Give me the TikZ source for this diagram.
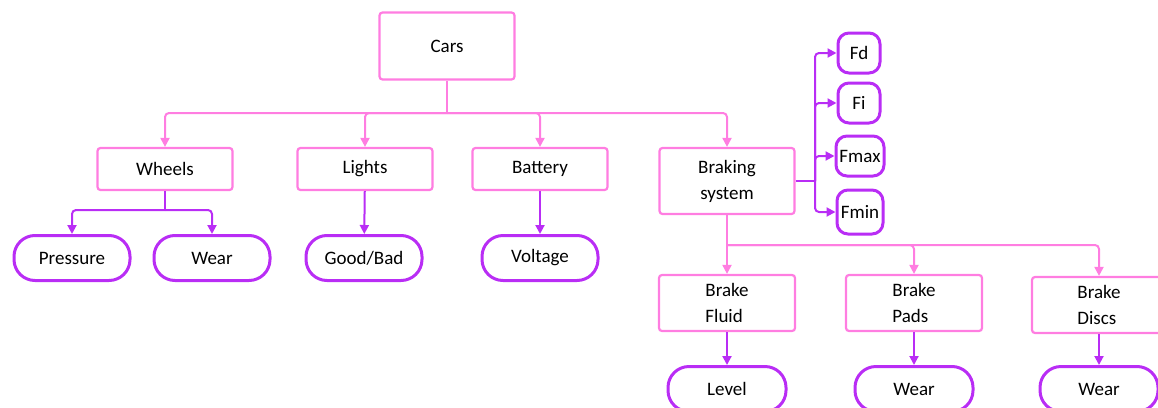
\documentclass[tikz,border=0pt]{standalone}
\usepackage{fontspec}
\setmainfont{Carlito}
\usetikzlibrary{arrows.meta}
\definecolor{pinkish}{RGB}{255,125,225}
\definecolor{purplish}{RGB}{185,45,245}
\colorlet{group edge}{pinkish}
\colorlet{leaf edge}{purplish}
\tikzset{group/.style={draw=group edge, line width=2.2pt, rounded corners=3pt, inner sep=0pt},
	leaf/.style={draw=leaf edge, line width=3pt, rounded corners=21pt, minimum width=116pt, minimum height=45pt, inner sep=0pt},
	force/.style={draw=leaf edge, line width=3pt, rounded corners=11pt, minimum width=42pt, minimum height=40pt, inner sep=0pt},
	pinkline/.style={draw=group edge, line width=2pt, rounded corners=4pt, -{Triangle[length=9pt,width=9pt]}},
	purpleline/.style={draw=leaf edge, line width=2pt, rounded corners=4pt, -{Triangle[length=9pt,width=9pt]}}}

\begin{document}
\begin{tikzpicture}[x=1pt, y=-1pt, font=\fontsize{19}{26}\selectfont]
		\useasboundingbox (0,0) rectangle (1158,407);
		% top level
		\node[group, minimum width=135pt, minimum height=67pt] (cars) at (447,46) {Cars};
		\node[group, minimum width=135pt, minimum height=42pt] (wheels) at (165,169) {Wheels};
		\node[group, minimum width=135pt, minimum height=42pt] (lights) at (365,169) {Lights};
		\node[group, minimum width=135pt, minimum height=42pt] (battery) at (540,169) {Battery};
		\node[group, minimum width=135pt, minimum height=66pt, align=center] (braking) at (727,181) {Braking\\system};
		\coordinate (split) at (447,113);
		\draw[pinkline, -] (cars.south) -- (split);
		\draw[pinkline] (split) -| (wheels.north);
		\draw[pinkline] (split) -| (lights.north);
		\draw[pinkline] (split) -| (battery.north);
		\draw[pinkline] (split) -| (braking.north);
		
		% second level
		\node[leaf] (pressure) at (72,258) {Pressure};
		\node[leaf] (wear) at (212,258) {Wear};
		\node[leaf] (goodbad) at (364,258) {Good/Bad};
		\node[leaf] (voltage) at (540,258) {Voltage};
		\coordinate (wsplit) at (165,210);
		\draw[purpleline, -] (wheels.south) -- (wsplit);
		\draw[purpleline] (wsplit) -| (pressure.north);
		\draw[purpleline] (wsplit) -| (wear.north);
		\draw[purpleline] (lights) -- (goodbad);
		\draw[purpleline] (battery) -- (voltage);
		
		% forces
		\node[force] (fd) at (859,53) {Fd};
		\node[force] (fi) at (859,103) {Fi};
		\node[force, minimum width=48pt] (fmax) at (860,156) {Fmax};
		\node[force, minimum width=46pt, minimum height=44pt] (fmin) at (860,212) {Fmin};
		\coordinate (fsplit) at (815,181);
		\draw[purpleline, -] (braking.east) -- (fsplit);
		\foreach \f in {fd,fi,fmax,fmin}
			\draw[purpleline] (fsplit) |- (\f.west);
		
		% brake parts
		\node[group, minimum width=136pt, minimum height=56pt, align=left] (fluid) at (727,303) {Brake\\Fluid};
		\node[group, minimum width=136pt, minimum height=56pt, align=left] (pads) at (914,303) {Brake\\Pads};
		\node[group, minimum width=134pt, minimum height=56pt, align=left] (discs) at (1099,305) {Brake\\Discs};
		\coordinate (bsplit) at (727,245);
		\draw[pinkline, -] (braking.south) -- (bsplit);
		\draw[pinkline] (bsplit) -- (fluid.north);
		\draw[pinkline] (bsplit) -| (pads.north);
		\draw[pinkline] (bsplit) -| (discs.north);
		\node[leaf, minimum width=118pt] (level) at (727,389) {Level};
		\node[leaf, minimum width=118pt] (padwear) at (914,389) {Wear};
		\node[leaf, minimum width=118pt] (discwear) at (1099,389) {Wear};
		\draw[purpleline] (fluid) -- (level);
		\draw[purpleline] (pads) -- (padwear);
		\draw[purpleline] (discs) -- (discwear);
		\end{tikzpicture}
\end{document}
